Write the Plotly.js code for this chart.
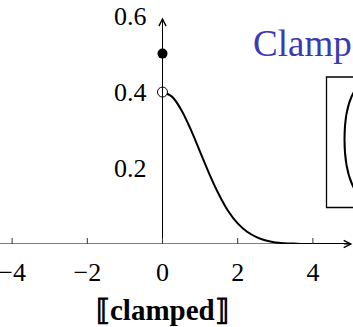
<!DOCTYPE html>
<html>
<head>
<meta charset="utf-8">
<script src="https://cdn.plot.ly/plotly-3.0.1.min.js"></script>
<style>
  html, body { margin: 0; padding: 0; background: #fff; overflow: hidden; }
  #chart { width: 353px; height: 327px; }
</style>
</head>
<body>
<div id="chart"></div>
<script>
// Density of the clamped variable on its continuous part
const curveX = [0, 0.25, 0.5, 0.75, 1, 1.25, 1.5, 1.75, 2, 2.25, 2.5, 2.75, 3, 3.25, 3.5, 3.75, 4, 4.5, 5];
const curveY = [0.399, 0.387, 0.352, 0.301, 0.242, 0.183, 0.130, 0.086, 0.054, 0.032, 0.018, 0.009, 0.004, 0.002, 0.001, 0.0, 0.0, 0.0, 0.0];

// Point mass at the clamp boundary and the open end of the density
const atomX = [0];
const atomY = [0.5];
const openX = [0];
const openY = [0.399];

const xTicks = [-4, -2, 0, 2, 4];
const yTicks = [0.2, 0.4, 0.6];

const W = 353, H = 327;
const plotBottom = 244;              // pixel row of the x axis
const pxPerX = 37.6, xZero = 162.5;  // horizontal scale
const pxPerY = 380.8;                // vertical scale
const xRange = [-xZero / pxPerX, (W - xZero) / pxPerX];
const yRange = [0, plotBottom / pxPerY];
const yTop = 0.595, xEnd = 5.05;

const serif = 'Liberation Serif, Times New Roman, serif';

// pixel -> paper helpers for the inset frame
const px = p => p / W;
const py = p => (plotBottom - p) / plotBottom;

const traces = [
  { x: curveX, y: curveY, mode: 'lines', line: { color: '#000', width: 2, shape: 'spline' },
    hoverinfo: 'skip', cliponaxis: false },
  { x: openX, y: openY, mode: 'markers', cliponaxis: false,
    marker: { size: 10, color: '#fff', line: { color: '#000', width: 1 } } },
  { x: atomX, y: atomY, mode: 'markers', cliponaxis: false,
    marker: { size: 10, color: '#000', line: { width: 0 } } }
];

const shapes = [
  // x axis line
  { type: 'line', xref: 'x', yref: 'y', x0: xRange[0], x1: xEnd - 0.05, y0: 0, y1: 0,
    line: { color: '#000', width: 1 } },
  // y axis line
  { type: 'line', xref: 'x', yref: 'y', x0: 0, x1: 0, y0: 0, y1: yTop - 0.005,
    line: { color: '#000', width: 1 } },
  // inset frame
  { type: 'rect', xref: 'paper', yref: 'paper', x0: px(326.5), x1: px(380), y0: py(207.5), y1: py(77),
    line: { color: '#000', width: 1.3 } },
  // inset curve
  { type: 'path', xref: 'paper', yref: 'paper',
    path: `M ${px(355)},${py(90)} C ${px(341)},${py(112)} ${px(341)},${py(166)} ${px(355)},${py(190)}`,
    line: { color: '#000', width: 2 } }
];
// crossing tick marks on the x axis
xTicks.forEach(t => shapes.push({
  type: 'line', xref: 'x', yref: 'y', ysizemode: 'pixel', yanchor: 0,
  x0: t, x1: t, y0: -6, y1: 6, line: { color: '#333', width: 1 }
}));

const annotations = [
  // axis arrowheads
  { x: xEnd, y: 0, xref: 'x', yref: 'y', text: '', showarrow: true, ax: -10, ay: 0,
    arrowhead: 5, arrowsize: 1.4, arrowwidth: 1, arrowcolor: '#000' },
  { x: 0, y: yTop, xref: 'x', yref: 'y', text: '', showarrow: true, ax: 0, ay: 10,
    arrowhead: 5, arrowsize: 1.4, arrowwidth: 1, arrowcolor: '#000' },
  // axis label
  { x: 0, y: py(310), xref: 'x', yref: 'paper', xanchor: 'center', yanchor: 'middle',
    text: '<b>⟦clamped⟧</b>', showarrow: false, font: { family: serif, size: 29, color: '#000' } },
  // heading
  { x: px(251), y: py(44), xref: 'paper', yref: 'paper', xanchor: 'left', yanchor: 'middle',
    text: 'Clamp', showarrow: false, font: { family: serif, size: 37, color: '#3a3ab4' } }
];

const layout = {
  width: W, height: H,
  margin: { l: 0, r: 0, t: 0, b: H - plotBottom, pad: 0 },
  paper_bgcolor: '#fff', plot_bgcolor: 'rgba(0,0,0,0)',
  showlegend: false,
  font: { family: serif, size: 26, color: '#000' },
  xaxis: {
    range: xRange, tickvals: xTicks, ticks: '', showline: false, showgrid: false,
    zeroline: false, ticklabelstandoff: 10, ticklabeloverflow: 'allow',
    tickfont: { family: serif, size: 26, color: '#000' }, fixedrange: true
  },
  yaxis: {
    range: yRange, tickvals: yTicks, tickformat: '.1f', ticks: '', showline: false, showgrid: false,
    zeroline: false, anchor: 'free', position: xZero / W, ticklabelstandoff: 16,
    ticklabeloverflow: 'allow',
    tickfont: { family: serif, size: 26, color: '#000' }, fixedrange: true
  },
  shapes: shapes,
  annotations: annotations
};

Plotly.newPlot('chart', traces, layout, { staticPlot: true, displayModeBar: false });
</script>
</body>
</html>
